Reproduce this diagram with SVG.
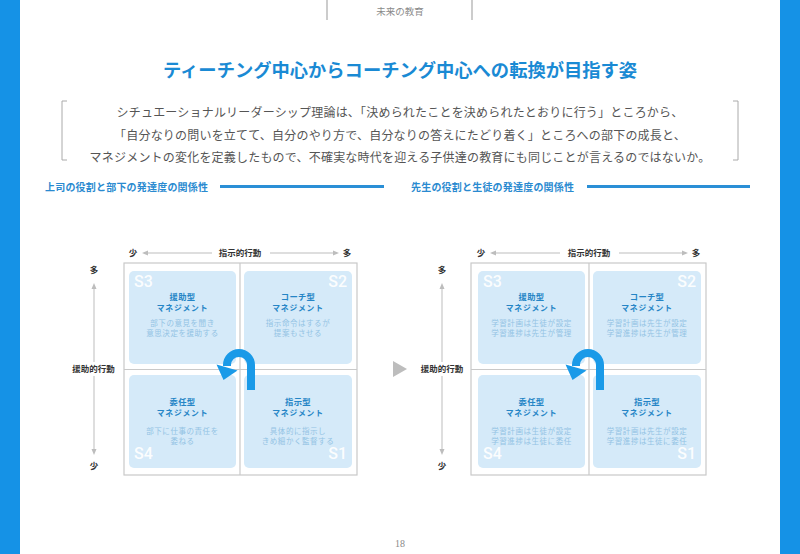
<svg xmlns="http://www.w3.org/2000/svg" width="800" height="554" viewBox="0 0 800 554">
<style>
text{font-family:"Noto Sans CJK JP","Noto Sans CJK SC",sans-serif}
.hdr{font-size:9.5px;fill:#8a8a8a;text-anchor:middle}
.title{font-size:18.3px;font-weight:700;fill:#1a8ad4;text-anchor:middle}
.para{font-size:12px;letter-spacing:0.2px;fill:#555;text-anchor:middle}
.sec{font-size:10px;font-weight:700;fill:#2a8ad0;letter-spacing:0.2px}
.ax{font-size:8.5px;font-weight:700;fill:#333;text-anchor:middle}
.ct{font-size:8.3px;font-weight:700;fill:#2585c6;text-anchor:middle;letter-spacing:0.3px}
.cm{font-size:7.8px;font-weight:700;fill:#2585c6;text-anchor:middle;letter-spacing:0.8px}
.cd{font-size:7.5px;fill:#93c3e4;text-anchor:middle;letter-spacing:0.55px}
.s{font-family:Roboto,"Liberation Sans",sans-serif;font-size:16px;font-weight:500;fill:#fff;opacity:0.92}
.cell{fill:#d5eaf9}
.grid{fill:none;stroke:#c9c9c9;stroke-width:1.2}
.axl{stroke:#bdbdbd;stroke-width:1;fill:none}
.axh{fill:#bdbdbd}
.uturn{fill:none;stroke:#1a9ae8;stroke-width:8}
.uhead{fill:#1a9ae8}
.bar{fill:#1592e6}
.secl{stroke:#2a8fd6;stroke-width:3}
.brk{fill:none;stroke:#aaa;stroke-width:1}
</style>

<!-- side bars -->
<rect class="bar" x="0" y="0" width="20" height="554"/>
<rect class="bar" x="780" y="0" width="20" height="554"/>

<!-- header -->
<g id="header">
<line x1="327" y1="0" x2="327" y2="20" stroke="#999" stroke-width="1"/>
<line x1="472" y1="0" x2="472" y2="20" stroke="#999" stroke-width="1"/>
<text class="hdr" x="400" y="15">未来の教育</text>
</g>

<g id="title">
<text class="title" x="400" y="77">ティーチング中心からコーチング中心への転換が目指す姿</text>
</g>

<g id="intro">
<path class="brk" d="M67,101 H62 V160 H67"/>
<path class="brk" d="M733,101 H738 V160 H733"/>
<text class="para" x="400" y="116.5">シチュエーショナルリーダーシップ理論は、「決められたことを決められたとおりに行う」ところから、</text>
<text class="para" x="400" y="139.5">「自分なりの問いを立てて、自分のやり方で、自分なりの答えにたどり着く」ところへの部下の成長と、</text>
<text class="para" x="400" y="161.5">マネジメントの変化を定義したもので、不確実な時代を迎える子供達の教育にも同じことが言えるのではないか。</text>
</g>

<g id="section-left">
<text class="sec" x="45" y="190.5">上司の役割と部下の発達度の関係性</text>
<line class="secl" x1="220" y1="186.5" x2="384" y2="186.5"/>
</g>
<g id="section-right">
<text class="sec" x="411" y="190.5">先生の役割と生徒の発達度の関係性</text>
<line class="secl" x1="587" y1="186.5" x2="750" y2="186.5"/>
</g>

<!-- LEFT DIAGRAM -->
<g id="left-axes">
<text class="ax" x="133" y="256">少</text>
<polygon class="axh" points="142,253 148,250.5 148,255.5"/>
<line class="axl" x1="148" y1="253" x2="212" y2="253"/>
<text class="ax" x="240" y="256">指示的行動</text>
<line class="axl" x1="270" y1="253" x2="333" y2="253"/>
<polygon class="axh" points="339,253 333,250.5 333,255.5"/>
<text class="ax" x="347" y="256">多</text>
<text class="ax" x="94" y="273">多</text>
<polygon class="axh" points="94,283 91.5,289 96.5,289"/>
<line class="axl" x1="94" y1="289" x2="94" y2="362"/>
<text class="ax" x="93.5" y="372">援助的行動</text>
<line class="axl" x1="94" y1="376" x2="94" y2="449"/>
<polygon class="axh" points="94,455 91.5,449 96.5,449"/>
<text class="ax" x="94" y="469">少</text>
</g>
<g id="left-grid">
<rect class="grid" x="124" y="263" width="233" height="212"/>
<line class="grid" x1="240" y1="263" x2="240" y2="475"/>
<line class="grid" x1="124" y1="369.5" x2="357" y2="369.5"/>
</g>
<g id="left-s3">
<rect class="cell" x="129" y="271" width="107" height="93" rx="5"/>
<text class="s" x="134" y="287">S3</text>
<text class="ct" x="182.5" y="299.5">援助型</text>
<text class="cm" x="182.5" y="310.5">マネジメント</text>
<text class="cd" x="182.5" y="325.5">部下の意見を聞き</text>
<text class="cd" x="182.5" y="336">意思決定を援助する</text>
</g>
<g id="left-s2">
<rect class="cell" x="244" y="271" width="108" height="93" rx="5"/>
<text class="s" x="347" y="287" text-anchor="end">S2</text>
<text class="ct" x="298" y="299.5">コーチ型</text>
<text class="cm" x="298" y="310.5">マネジメント</text>
<text class="cd" x="298" y="325.5">指示命令はするが</text>
<text class="cd" x="298" y="336">提案もさせる</text>
</g>
<g id="left-s4">
<rect class="cell" x="129" y="375" width="107" height="93" rx="5"/>
<text class="s" x="134" y="459">S4</text>
<text class="ct" x="182.5" y="405">委任型</text>
<text class="cm" x="182.5" y="415.5">マネジメント</text>
<text class="cd" x="182.5" y="434">部下に仕事の責任を</text>
<text class="cd" x="182.5" y="443.5">委ねる</text>
</g>
<g id="left-s1">
<rect class="cell" x="244" y="375" width="108" height="93" rx="5"/>
<text class="s" x="347" y="459" text-anchor="end">S1</text>
<text class="ct" x="298" y="405">指示型</text>
<text class="cm" x="298" y="415.5">マネジメント</text>
<text class="cd" x="298" y="434">具体的に指示し</text>
<text class="cd" x="298" y="443.5">きめ細かく監督する</text>
</g>

<!-- RIGHT DIAGRAM -->
<g id="right-axes">
<text class="ax" x="481" y="256">少</text>
<polygon class="axh" points="490,253 496,250.5 496,255.5"/>
<line class="axl" x1="496" y1="253" x2="560" y2="253"/>
<text class="ax" x="589" y="256">指示的行動</text>
<line class="axl" x1="619" y1="253" x2="682" y2="253"/>
<polygon class="axh" points="688,253 682,250.5 682,255.5"/>
<text class="ax" x="696" y="256">多</text>
<text class="ax" x="442" y="273">多</text>
<polygon class="axh" points="442,283 439.5,289 444.5,289"/>
<line class="axl" x1="442" y1="289" x2="442" y2="362"/>
<text class="ax" x="442" y="372">援助的行動</text>
<line class="axl" x1="442" y1="376" x2="442" y2="449"/>
<polygon class="axh" points="442,455 439.5,449 444.5,449"/>
<text class="ax" x="442" y="469">少</text>
</g>
<g id="right-grid">
<rect class="grid" x="471" y="263" width="235" height="212"/>
<line class="grid" x1="589" y1="263" x2="589" y2="475"/>
<line class="grid" x1="471" y1="369.5" x2="706" y2="369.5"/>
</g>
<g id="right-s3">
<rect class="cell" x="478" y="271" width="107" height="93" rx="5"/>
<text class="s" x="483" y="287">S3</text>
<text class="ct" x="531.5" y="299.5">援助型</text>
<text class="cm" x="531.5" y="310.5">マネジメント</text>
<text class="cd" x="531.5" y="325.5">学習計画は生徒が設定</text>
<text class="cd" x="531.5" y="336">学習進捗は先生が管理</text>
</g>
<g id="right-s2">
<rect class="cell" x="593" y="271" width="108" height="93" rx="5"/>
<text class="s" x="696" y="287" text-anchor="end">S2</text>
<text class="ct" x="647" y="299.5">コーチ型</text>
<text class="cm" x="647" y="310.5">マネジメント</text>
<text class="cd" x="647" y="325.5">学習計画は先生が設定</text>
<text class="cd" x="647" y="336">学習進捗は先生が管理</text>
</g>
<g id="right-s4">
<rect class="cell" x="478" y="375" width="107" height="93" rx="5"/>
<text class="s" x="483" y="459">S4</text>
<text class="ct" x="531.5" y="405">委任型</text>
<text class="cm" x="531.5" y="415.5">マネジメント</text>
<text class="cd" x="531.5" y="434">学習計画は生徒が設定</text>
<text class="cd" x="531.5" y="443.5">学習進捗は生徒に委任</text>
</g>
<g id="right-s1">
<rect class="cell" x="593" y="375" width="108" height="93" rx="5"/>
<text class="s" x="696" y="459" text-anchor="end">S1</text>
<text class="ct" x="647" y="405">指示型</text>
<text class="cm" x="647" y="415.5">マネジメント</text>
<text class="cd" x="647" y="434">学習計画は先生が設定</text>
<text class="cd" x="647" y="443.5">学習進捗は生徒に委任</text>
</g>

<!-- connectors -->
<g id="connectors">
<path class="uturn" d="M251,390 V365 A12,12 0 0 0 227,365 V366"/>
<polygon class="uhead" points="216.5,364.5 237.5,370.5 223.5,380"/>
<polygon fill="#bdbdbd" points="393,361 393,377 407,369"/>
<path class="uturn" d="M600,390 V365 A12,12 0 0 0 576,365 V366"/>
<polygon class="uhead" points="565.5,364.5 586.5,370.5 572.5,380"/>
</g>

<g id="footer">
<text class="hdr" x="400" y="547" style="font-family:'Liberation Serif',serif;font-size:10px">18</text>
</g>
</svg>
